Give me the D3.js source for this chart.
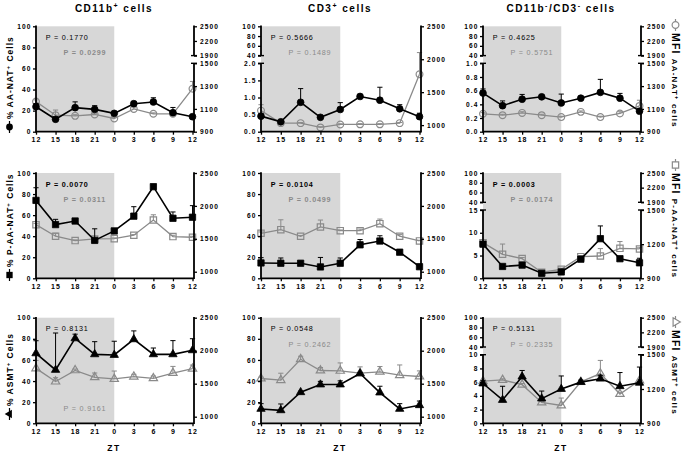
<!DOCTYPE html>
<html>
<head>
<meta charset="utf-8">
<script src="https://cdn.jsdelivr.net/npm/d3@7"></script>
<style>
  body { margin: 0; background: #fff; }
  svg { display: block; font-family: "Liberation Sans", Arial, sans-serif; }
</style>
</head>
<body>
<svg id="fig" width="685" height="451"></svg>
<script>
// ---- data ----
const zt = [12, 15, 18, 21, 0, 3, 6, 9, 12];

// row 1 : AA-NAT
const aanatPctCD11b    = [23.7, 11.8, 22.8, 21.2, 17.4, 26.6, 28.2, 18.0, 14.2];
const aanatPctErrCD11b = [3, 2, 5.5, 3.5, 1, 1.5, 4, 5, 1];
const aanatMfiCD11b    = [1164, 1045, 1039, 1051, 1016, 1100, 1057, 1057, 1277];
const aanatMfiErrCD11b = [15, 45, 10, 10, 8, 10, 8, 8, 64];

const aanatPctCD3    = [0.455, 0.29, 0.86, 0.42, 0.65, 1.03, 0.92, 0.67, 0.44];
const aanatPctErrCD3 = [0.05, 0.03, 0.4, 0.04, 0.2, 0.04, 0.38, 0.12, 0.1];
const aanatMfiCD3    = [1220, 1030, 1030, 965, 1010, 1012, 1012, 1030, 1771];
const aanatMfiErrCD3 = [90, 10, 10, 10, 10, 10, 10, 10, 330];

const aanatPctDN    = [0.565, 0.38, 0.475, 0.51, 0.42, 0.49, 0.575, 0.49, 0.30];
const aanatPctErrDN = [0.06, 0.07, 0.07, 0.02, 0.13, 0.02, 0.19, 0.07, 0.02];
const aanatMfiDN    = [1057, 1045, 1065, 1045, 1028, 1074, 1028, 1060, 1126];
const aanatMfiErrDN = [10, 8, 10, 8, 8, 8, 8, 15, 50];

// row 2 : P-AA-NAT
const paanatPctCD11b    = [74, 51, 54.4, 36, 45, 59, 87, 57, 58];
const paanatPctErrCD11b = [12, 5, 1, 11, 1, 9, 1, 6, 11];
const paanatMfiCD11b    = [1715, 1539, 1473, 1498, 1503, 1554, 1785, 1534, 1524];
const paanatMfiErrCD11b = [20, 45, 10, 10, 10, 10, 80, 20, 15];

const paanatPctCD3    = [14.6, 14.3, 14.3, 10.8, 14.3, 31.8, 35.4, 24.8, 11];
const paanatPctErrCD3 = [5, 5, 1, 9, 5, 5, 5, 2, 1];
const paanatMfiCD3    = [1584, 1639, 1539, 1680, 1624, 1624, 1730, 1539, 1468];
const paanatMfiErrCD3 = [20, 150, 10, 105, 10, 25, 70, 25, 10];

const paanatPctDN    = [7.5, 2.6, 2.9, 1.1, 1.4, 4.2, 8.7, 4.3, 3.4];
const paanatPctErrDN = [0.4, 0.3, 0.3, 0.2, 0.3, 0.3, 2.8, 0.4, 1];
const paanatMfiDN    = [1213, 1111, 1073, 953, 979, 1090, 1096, 1163, 1158];
const paanatMfiErrDN = [10, 90, 10, 8, 10, 10, 65, 60, 15];

// row 3 : ASMT
const asmtPctCD11b    = [66.2, 50.5, 80.4, 65.3, 64.7, 79.5, 65.3, 65.3, 69.1];
const asmtPctErrCD11b = [12, 35, 4, 12, 13, 8, 6, 13, 11];
const asmtMfiCD11b    = [1732, 1532, 1702, 1597, 1572, 1607, 1582, 1662, 1727];
const asmtMfiErrCD11b = [120, 60, 20, 65, 120, 35, 35, 100, 55];

const asmtPctCD3    = [13.6, 12.3, 29.4, 36.7, 36.7, 47.2, 29.1, 13.6, 17.1];
const asmtPctErrCD3 = [5, 6, 1, 3, 3.5, 1, 6, 5, 4];
const asmtMfiCD3    = [1579, 1554, 1871, 1700, 1695, 1660, 1680, 1629, 1609];
const asmtMfiErrCD3 = [20, 105, 45, 45, 120, 95, 80, 155, 85];

const asmtPctDN    = [5.8, 3.4, 6.8, 3.6, 5.0, 6.0, 6.5, 5.4, 5.9];
const asmtPctErrDN = [0.4, 2, 0.9, 1.1, 1.9, 0.3, 0.5, 2, 2.3];
const asmtMfiDN    = [1268, 1279, 1238, 1082, 1056, 1262, 1335, 1156, 1274];
const asmtMfiErrDN = [10, 10, 10, 10, 65, 10, 115, 15, 10];

// p values (black = % cells, grey = MFI)
const pPct = [["0.1770", "0.5666", "0.4625"], ["0.0070", "0.0104", "0.0003"], ["0.8131", "0.0548", "0.5131"]];
const pMfi = [["0.0299", "0.1489", "0.5751"], ["0.0311", "0.0499", "0.0174"], ["0.9161", "0.2462", "0.2335"]];

// ---- layout ----
const svg = d3.select("#fig");
const cols = [{L: 36, R: 194}, {L: 261, R: 421}, {L: 483, R: 641}];
const rows = [{T: 26.3, B: 131.7}, {T: 173, B: 278.3}, {T: 317.7, B: 423.3}];
const GREY = "#8a8a8a", SHADE = "#d7d7d7";
const UPPER = 29.3, LOWER = 37;   // broken axis: end of top piece / start of bottom piece below T

// axis configs
const leftCont  = {domain: [0, 100], ticks: [0, 20, 40, 60, 80, 100], dec: 0};
const rightCont = {domain: [900, 2500], ticks: [1000, 1500, 2000, 2500], dec: 0};
function leftBreak(max, step, dec) {
    return {lo: [0, max], hi: [40, 100], dec: dec,
            ticks: d3.range(0, max + step / 2, step).concat([40, 60, 80, 100])};
}
function rightBreak(step) {
    return {lo: [900, 1500], hi: [1900, 2500], dec: 0,
            ticks: d3.range(900, 1501, step).concat([1900, 2200, 2500])};
}

const panels = [
    {r: 0, c: 0, pct: aanatPctCD11b, pctErr: aanatPctErrCD11b, mfi: aanatMfiCD11b, mfiErr: aanatMfiErrCD11b, left: leftCont, right: rightBreak(200), shape: d3.symbolCircle},
    {r: 0, c: 1, pct: aanatPctCD3, pctErr: aanatPctErrCD3, mfi: aanatMfiCD3, mfiErr: aanatMfiErrCD3, left: leftBreak(2, 0.5, 1), right: rightCont, shape: d3.symbolCircle},
    {r: 0, c: 2, pct: aanatPctDN, pctErr: aanatPctErrDN, mfi: aanatMfiDN, mfiErr: aanatMfiErrDN, left: leftBreak(1, 0.2, 1), right: rightBreak(200), shape: d3.symbolCircle},
    {r: 1, c: 0, pct: paanatPctCD11b, pctErr: paanatPctErrCD11b, mfi: paanatMfiCD11b, mfiErr: paanatMfiErrCD11b, left: leftCont, right: rightCont, shape: d3.symbolSquare},
    {r: 1, c: 1, pct: paanatPctCD3, pctErr: paanatPctErrCD3, mfi: paanatMfiCD3, mfiErr: paanatMfiErrCD3, left: leftCont, right: rightCont, shape: d3.symbolSquare},
    {r: 1, c: 2, pct: paanatPctDN, pctErr: paanatPctErrDN, mfi: paanatMfiDN, mfiErr: paanatMfiErrDN, left: leftBreak(15, 5, 0), right: rightBreak(300), shape: d3.symbolSquare},
    {r: 2, c: 0, pct: asmtPctCD11b, pctErr: asmtPctErrCD11b, mfi: asmtMfiCD11b, mfiErr: asmtMfiErrCD11b, left: leftCont, right: rightCont, shape: d3.symbolTriangle},
    {r: 2, c: 1, pct: asmtPctCD3, pctErr: asmtPctErrCD3, mfi: asmtMfiCD3, mfiErr: asmtMfiErrCD3, left: leftCont, right: rightCont, shape: d3.symbolTriangle},
    {r: 2, c: 2, pct: asmtPctDN, pctErr: asmtPctErrDN, mfi: asmtMfiDN, mfiErr: asmtMfiErrDN, left: leftBreak(10, 2, 0), right: rightBreak(300), shape: d3.symbolTriangle}
];

function symSize(shape) {
    if (shape === d3.symbolCircle) return 36;
    if (shape === d3.symbolSquare) return 40;
    return 30;
}

function makeY(cfg, T, B) {
    if (cfg.lo) {
        return d3.scaleLinear()
            .domain([cfg.lo[0], cfg.lo[1], cfg.hi[0], cfg.hi[1]])
            .range([B, T + LOWER, T + UPPER, T]);
    }
    return d3.scaleLinear().domain(cfg.domain).range([B, T]);
}

function drawAxis(g, scale, cfg, side, x, T, B) {
    var fmt = d => (cfg.lo && d >= cfg.hi[0]) ? d3.format("d")(d) : d3.format("." + cfg.dec + "f")(d);
    var axis = (side === "left" ? d3.axisLeft(scale) : d3.axisRight(scale))
        .tickValues(cfg.ticks).tickFormat(fmt).tickSize(3).tickPadding(side === "left" ? 1.5 : 3);
    var a = g.append("g").attr("transform", "translate(" + x + ",0)").call(axis);
    a.select(".domain").remove();
    a.selectAll(".tick line").attr("stroke-width", 1.3);
    a.selectAll(".tick text")
        .attr("font-family", null).attr("font-size", 6.6).attr("font-weight", "bold")
        .attr("letter-spacing", 1.1).attr("fill", "#000");
    a.attr("font-family", null).attr("font-size", null);
    var segs = cfg.lo ? [[B + 0.8, T + LOWER], [T + UPPER, T - 0.8]] : [[B + 0.8, T - 0.8]];
    segs.forEach(s => a.append("line").attr("y1", s[0]).attr("y2", s[1])
        .attr("stroke", "#000").attr("stroke-width", 1.8));
    if (cfg.lo) { // break caps
        [T + UPPER, T + LOWER].forEach(yy => a.append("line")
            .attr("x1", -3).attr("x2", 3).attr("y1", yy).attr("y2", yy)
            .attr("stroke", "#000").attr("stroke-width", 1.4));
    }
}

function drawSeries(g, x, y, vals, errs, color, shape, filled) {
    var s = g.append("g");
    s.selectAll("path.err").data(vals).join("path")
        .attr("class", "err")
        .attr("d", (d, i) => "M" + x(i) + "," + y(d) + "V" + y(d + errs[i]) +
            "M" + (x(i) - 2.6) + "," + y(d + errs[i]) + "H" + (x(i) + 2.6))
        .attr("fill", "none").attr("stroke", color).attr("stroke-width", 1);
    s.append("path").datum(vals)
        .attr("d", d3.line().x((d, i) => x(i)).y(d => y(d)))
        .attr("fill", "none").attr("stroke", color).attr("stroke-width", filled ? 1.6 : 1.3);
    s.selectAll("path.mark").data(vals).join("path")
        .attr("class", "mark")
        .attr("transform", (d, i) => "translate(" + x(i) + "," + y(d) + ")")
        .attr("d", d3.symbol().type(shape).size(symSize(shape)))
        .attr("fill", filled ? "#000" : "none")
        .attr("stroke", color).attr("stroke-width", filled ? 0.8 : 1.2);
}

function pText(g, x, y, p, color) {
    g.append("text").attr("x", x).attr("y", y)
        .attr("font-size", 7.2).attr("letter-spacing", 0.8)
        .attr("font-weight", parseFloat(p) < 0.05 ? "bold" : "normal")
        .attr("fill", color).text("P = " + p);
}

panels.forEach(function(p) {
    var col = cols[p.c], row = rows[p.r];
    var g = svg.append("g");
    var x = d3.scaleLinear().domain([0, 8]).range([col.L, col.R - 1.5]);
    var yl = makeY(p.left, row.T, row.B);
    var yr = makeY(p.right, row.T, row.B);

    // dark phase
    g.append("rect").attr("x", col.L).attr("y", row.T)
        .attr("width", x(4) - col.L).attr("height", row.B - row.T).attr("fill", SHADE);

    drawSeries(g, x, yr, p.mfi, p.mfiErr, GREY, p.shape, false);
    drawSeries(g, x, yl, p.pct, p.pctErr, "#000", p.shape, true);

    // x axis
    var xa = g.append("g").attr("transform", "translate(0," + row.B + ")")
        .call(d3.axisBottom(x).tickValues(d3.range(9)).tickFormat(i => zt[i]).tickSize(3).tickPadding(2.5));
    xa.select(".domain").remove();
    xa.append("line").attr("x1", col.L).attr("x2", col.R).attr("stroke", "#000").attr("stroke-width", 1.8);
    xa.selectAll(".tick line").attr("stroke-width", 1.3);
    xa.selectAll(".tick text").attr("font-size", 7).attr("font-weight", "bold")
        .attr("letter-spacing", 1.1).attr("fill", "#000");
    xa.attr("font-family", null);

    drawAxis(g, yl, p.left, "left", col.L, row.T, row.B);
    drawAxis(g, yr, p.right, "right", col.R, row.T, row.B);

    // p values
    pText(g, col.L + 9.7, row.T + 13.5, pPct[p.r][p.c], "#000");
    var gy = (p.r === 2 && p.c === 0) ? row.B - 12.5 : row.T + 29;
    pText(g, col.L + 27.5, gy, pMfi[p.r][p.c], GREY);
});

// column titles
var titles = [
    [{t: "CD11b"}, {t: "+", sup: true}, {t: " cells"}],
    [{t: "CD3"}, {t: "+", sup: true}, {t: " cells"}],
    [{t: "CD11b"}, {t: "-", sup: true}, {t: "/CD3"}, {t: "-", sup: true}, {t: " cells"}]
];
function richText(sel, parts, size, supSize) {
    var shift = 0;
    parts.forEach(function(pt) {
        var dy = pt.sup ? -size * 0.4 - shift : -shift;
        shift = pt.sup ? -size * 0.4 : 0;
        sel.append("tspan").attr("dy", dy).attr("font-size", pt.size || (pt.sup ? supSize : size)).text(pt.t);
    });
}
titles.forEach(function(parts, i) {
    var col = cols[i];
    var t = svg.append("text").attr("x", (col.L + col.R) / 2 - 1).attr("y", 12)
        .attr("text-anchor", "middle").attr("font-weight", "bold").attr("letter-spacing", 1.5);
    richText(t, parts, 10, 7);
    svg.append("text").attr("x", (col.L + col.R) / 2 - 1).attr("y", 450.5)
        .attr("text-anchor", "middle").attr("font-weight", "bold").attr("font-size", 8.5)
        .attr("letter-spacing", 1.5).text("ZT");
});

// left labels (with filled symbol), right labels (with open symbol)
var leftLabels = ["% AA-NAT", "% P-AA-NAT", "% ASMT"];
var rightLabels = ["AA-NAT", "P-AA-NAT", "ASMT"];
var shapes = [d3.symbolCircle, d3.symbolSquare, d3.symbolTriangle];
var leftMarkY = [127, 275, 414];
var rightMarkY = [25, 165, 322];

leftLabels.forEach(function(lab, i) {
    var my = leftMarkY[i];
    svg.append("line").attr("x1", 9.5).attr("x2", 9.5).attr("y1", my - 6).attr("y2", my + 6)
        .attr("stroke", "#000").attr("stroke-width", 1.2);
    svg.append("path").attr("transform", "translate(9.5," + my + ") rotate(-90)")
        .attr("d", d3.symbol().type(shapes[i]).size(symSize(shapes[i]))).attr("fill", "#000");
    var t = svg.append("text").attr("transform", "translate(13," + (my - 8) + ") rotate(-90)")
        .attr("font-weight", "bold").attr("letter-spacing", 1);
    richText(t, [{t: lab}, {t: "+", sup: true}, {t: " Cells"}], 8.5, 6);
});

rightLabels.forEach(function(lab, i) {
    var my = rightMarkY[i];
    svg.append("line").attr("x1", 675.5).attr("x2", 675.5).attr("y1", my - 6).attr("y2", my + 6)
        .attr("stroke", GREY).attr("stroke-width", 1.2);
    svg.append("path").attr("transform", "translate(675.5," + my + ") rotate(90)")
        .attr("d", d3.symbol().type(shapes[i]).size(symSize(shapes[i])))
        .attr("fill", "#fff").attr("stroke", GREY).attr("stroke-width", 1.2);
    var t = svg.append("text").attr("transform", "translate(671.5," + (my + 8) + ") rotate(90)")
        .attr("font-weight", "bold").attr("letter-spacing", 1.2);
    richText(t, [{t: "MFI ", size: 10.5}, {t: lab}, {t: "+", sup: true}, {t: " cells"}], 8, 5.5);
});
</script>
</body>
</html>
